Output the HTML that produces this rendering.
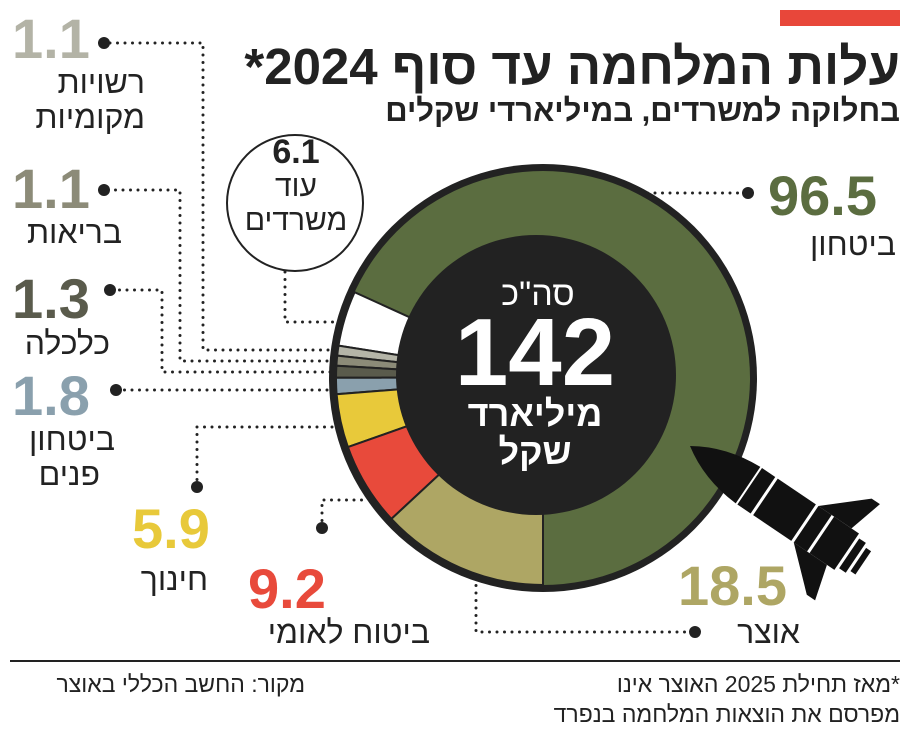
<!DOCTYPE html>
<html><head><meta charset="utf-8"><style>
html,body{margin:0;padding:0;background:#fff;}
svg{display:block;}
text{font-family:"Liberation Sans","Noto Sans CJK SC",sans-serif;}
.b{font-weight:bold;}
.dot{fill:none;stroke:#222;stroke-width:3;stroke-dasharray:0 7.5;stroke-linecap:round;}
</style></head><body>
<svg width="910" height="730" viewBox="0 0 910 730" xmlns="http://www.w3.org/2000/svg">
<rect x="780" y="10" width="120" height="16" fill="#e8473a"/>
<text x="900" y="84" direction="rtl" text-anchor="start" class="b" font-size="51" fill="#222">עלות המלחמה עד סוף 2024*</text>
<text x="900" y="121" direction="rtl" text-anchor="start" class="b" font-size="31" fill="#222">בחלוקה למשרדים, במיליארדי שקלים</text>

<!-- dotted connectors -->
<path class="dot" d="M110 43 H203 V350 H335"/>
<path class="dot" d="M108 190 H180 V361 H335"/>
<path class="dot" d="M112 290 H162 V372 H335"/>
<path class="dot" d="M117 390 H335"/>
<path class="dot" d="M197 487 V427 H350"/>
<path class="dot" d="M322 528 V500 H368"/>
<path class="dot" d="M692 632 H476 V545"/>
<path class="dot" d="M745 193 H630"/>
<path class="dot" d="M285 272 V322 H335"/>
<g fill="#222">
<circle cx="104" cy="43" r="6"/><circle cx="104" cy="190" r="6"/><circle cx="110" cy="290" r="6"/><circle cx="116" cy="390" r="6"/>
<circle cx="197" cy="487" r="6"/><circle cx="322" cy="528" r="6"/><circle cx="695" cy="632" r="6"/><circle cx="748" cy="193" r="6"/>
</g>

<!-- donut -->
<circle cx="543" cy="378" r="214" fill="#222"/>
<circle cx="543" cy="378" r="207" fill="#5b6d40"/>
<g stroke="#222" stroke-width="2">
<path d="M543 378 L354.6 292.2 A207 207 0 0 0 338.5 345.6 Z" fill="#fff"/>
<path d="M543 378 L338.5 345.6 A207 207 0 0 0 337.2 355.6 Z" fill="#b5b5a8"/>
<path d="M543 378 L337.2 355.6 A207 207 0 0 0 336.4 365.7 Z" fill="#8c8b78"/>
<path d="M543 378 L336.4 365.7 A207 207 0 0 0 336 377.6 Z" fill="#5a5b4c"/>
<path d="M543 378 L336 377.6 A207 207 0 0 0 336.6 394.2 Z" fill="#8aa0ad"/>
<path d="M543 378 L336.6 394.2 A207 207 0 0 0 347.9 447.1 Z" fill="#e8c93a"/>
<path d="M543 378 L347.9 447.1 A207 207 0 0 0 391.4 518.9 Z" fill="#e84a3b"/>
<path d="M543 378 L391.4 518.9 A207 207 0 0 0 543 585 Z" fill="#aea664"/>
</g>
<circle cx="536" cy="375" r="140" fill="#222"/>
<text x="538" y="305" text-anchor="middle" font-size="34" fill="#fff">סה"כ</text>
<text x="535" y="385" text-anchor="middle" class="b" font-size="96" fill="#fff">142</text>
<text x="535" y="426" text-anchor="middle" class="b" font-size="36" fill="#fff">מיליארד</text>
<text x="535" y="464" text-anchor="middle" class="b" font-size="36" fill="#fff">שקל</text>

<!-- rocket -->
<g transform="translate(690,446) rotate(34)" fill="#111">
<path d="M0 0 Q30 -20 70 -22 L70 22 Q30 20 0 0 Z"/>
<rect x="72" y="-22" width="16" height="44"/>
<rect x="91" y="-22" width="46" height="44"/>
<rect x="140" y="-22" width="16" height="44"/>
<rect x="159" y="-22" width="30" height="44"/>
<rect x="192" y="-18" width="8" height="36"/>
<rect x="203" y="-14" width="6" height="28"/>
<path d="M140 -22 L180 -58 L190 -58 L180 -22 Z"/>
<path d="M140 22 L180 58 L190 58 L180 22 Z"/>
</g>

<!-- other ministries circle -->
<circle cx="295" cy="203" r="68" fill="#fff" stroke="#222" stroke-width="2"/>
<text x="296" y="163" text-anchor="middle" class="b" font-size="34" fill="#222">6.1</text>
<text x="296" y="196" text-anchor="middle" font-size="30" fill="#222">עוד</text>
<text x="296" y="230" text-anchor="middle" font-size="30" fill="#222">משרדים</text>

<!-- labels -->
<g class="b" font-size="56">
<text x="12" y="58" fill="#b3b3a6">1.1</text>
<text x="12" y="208" fill="#8c8b78">1.1</text>
<text x="12" y="318" fill="#5a5b4c">1.3</text>
<text x="12" y="415" fill="#8aa0ad">1.8</text>
<text x="132" y="548" fill="#e8c93a">5.9</text>
<text x="248" y="608" fill="#e84a3b">9.2</text>
<text x="678" y="605" fill="#aea664">18.5</text>
<text x="768" y="215" fill="#5b6d40">96.5</text>
</g>
<g font-size="32" fill="#222" text-anchor="end">
<text x="145" y="93">רשויות</text>
<text x="145" y="128">מקומיות</text>
<text x="122" y="243">בריאות</text>
<text x="110" y="354">כלכלה</text>
<text x="115" y="450">ביטחון</text>
<text x="100" y="485">פנים</text>
<text x="208" y="590">חינוך</text>
<text x="430" y="643">ביטוח לאומי</text>
<text x="800" y="643">אוצר</text>
<text x="896" y="255">ביטחון</text>
</g>

<line x1="10" y1="661" x2="900" y2="661" stroke="#222" stroke-width="2"/>
<text x="305" y="692" direction="rtl" text-anchor="start" font-size="23" fill="#222">מקור: החשב הכללי באוצר</text>
<text x="900" y="692" direction="rtl" text-anchor="start" font-size="23" fill="#222">*מאז תחילת 2025 האוצר אינו</text>
<text x="900" y="722" direction="rtl" text-anchor="start" font-size="23" fill="#222">מפרסם את הוצאות המלחמה בנפרד</text>
</svg>
</body></html>
